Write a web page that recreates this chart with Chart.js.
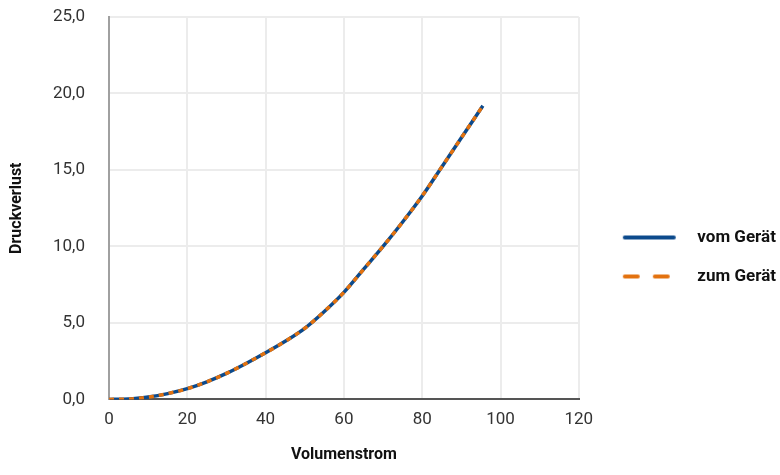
<!DOCTYPE html>
<html>
<head>
<meta charset="utf-8">
<script src="https://cdn.jsdelivr.net/npm/chart.js@4"></script>
<style>
    body { margin: 0; background: #fff; }
    #box { width: 780px; height: 475px; }
</style>
</head>
<body>
<div id="box"><canvas id="graphCanvas"></canvas></div>
<script>
//--------------------- DONNEES -------------------------
const volumenstrom = [0, 5, 10, 15, 20, 25, 30, 35, 40, 45, 50, 55, 60, 65, 70, 75, 80, 85, 90, 95.5];
const vomGeraet = [0, 0.02, 0.15, 0.38, 0.7, 1.15, 1.7, 2.35, 3.05, 3.8, 4.65, 5.75, 7.0, 8.5, 10.0, 11.6, 13.3, 15.2, 17.1, 19.2];
const zumGeraet = [0, 0.02, 0.15, 0.38, 0.7, 1.15, 1.7, 2.35, 3.05, 3.8, 4.65, 5.75, 7.0, 8.5, 10.0, 11.6, 13.3, 15.2, 17.1, 19.2];
const xTicks = [0, 20, 40, 60, 80, 100, 120];
const yTicks = [0, 5, 10, 15, 20, 25];

const blue = '#0c4a8c';
const orange = '#e3720f';

// petite image pour la ligne de la legende (partie gauche transparente = espace)
const LEG_W = 88;
const LEG_GAP = 22;
function legendLine(color, dash, end) {
    const c = document.createElement('canvas');
    c.width = LEG_W;
    c.height = 8;
    const g = c.getContext('2d');
    g.strokeStyle = color;
    g.lineWidth = 4;
    g.lineCap = 'round';
    g.setLineDash(dash);
    g.beginPath();
    g.moveTo(LEG_GAP + 2, 4);
    g.lineTo(LEG_GAP + end, 4);
    g.stroke();
    return c;
}

// SETUP BLOCK
const data = {
    datasets: [{
        label: 'vom Gerät',
        data: volumenstrom.map((x, i) => ({ x: x, y: vomGeraet[i] })),
        borderColor: blue,
        borderWidth: 3.5,
        order: 2,
        legendImg: legendLine(blue, [], 51)
    }, {
        label: 'zum Gerät',
        data: volumenstrom.map((x, i) => ({ x: x, y: zumGeraet[i] })),
        borderColor: orange,
        borderWidth: 3.5,
        borderDash: [5, 5],
        order: 1,
        legendImg: legendLine(orange, [13, 17], 45)
    }]
};

const tickFont = { family: 'Roboto', size: 17 };
const titleFont = { family: 'Roboto', size: 16, weight: 'bold' };

// CONFIG BLOCK
const config = {
    type: 'line',
    data,
    options: {
        responsive: true,
        maintainAspectRatio: false,
        animation: false,
        layout: { padding: { top: 17, right: -6, bottom: 0, left: 0 } },
        elements: {
            point: { radius: 0 },
            line: { cubicInterpolationMode: 'monotone', fill: false }
        },
        plugins: {
            tooltip: { enabled: false },
            legend: {
                position: 'right',
                maxWidth: 240,
                title: { display: true, text: '', font: { size: 10 }, padding: 5 },
                labels: {
                    usePointStyle: true,
                    pointStyleWidth: LEG_W,
                    padding: 22,
                    color: '#111',
                    font: { family: 'Roboto', size: 17, weight: 'bold' },
                    generateLabels: chart => chart.data.datasets.map((ds, i) => ({
                        text: ds.label,
                        pointStyle: ds.legendImg,
                        fillStyle: ds.borderColor,
                        strokeStyle: ds.borderColor,
                        fontColor: '#111',
                        datasetIndex: i
                    }))
                }
            }
        },
        scales: {
            x: {
                type: 'linear',
                min: 0,
                max: 120,
                afterBuildTicks: s => { s.ticks = xTicks.map(v => ({ value: v })); },
                ticks: { font: tickFont, color: '#333', padding: 10 },
                grid: { color: '#ececec', lineWidth: 2, drawTicks: false },
                border: { color: '#555', width: 2 },
                title: {
                    display: true,
                    text: 'Volumenstrom',
                    color: '#111',
                    font: titleFont,
                    padding: { top: 6, bottom: 10 }
                }
            },
            y: {
                min: 0,
                max: 25,
                afterBuildTicks: s => { s.ticks = yTicks.map(v => ({ value: v })); },
                afterFit: s => { s.width = 109; },
                ticks: {
                    font: tickFont,
                    color: '#333',
                    padding: 4,
                    callback: v => v.toFixed(1).replace('.', ',')
                },
                grid: { color: '#ececec', lineWidth: 2, tickLength: 20, tickColor: 'transparent' },
                border: { color: '#a0a0a0', width: 2 },
                title: {
                    display: true,
                    text: 'Druckverlust',
                    color: '#111',
                    font: titleFont,
                    padding: { top: 7, bottom: 0 }
                }
            }
        }
    }
};

// RENDER BLOCK
const graphCanvas = new Chart(
    document.getElementById('graphCanvas').getContext('2d'),
    config
);
</script>
</body>
</html>
